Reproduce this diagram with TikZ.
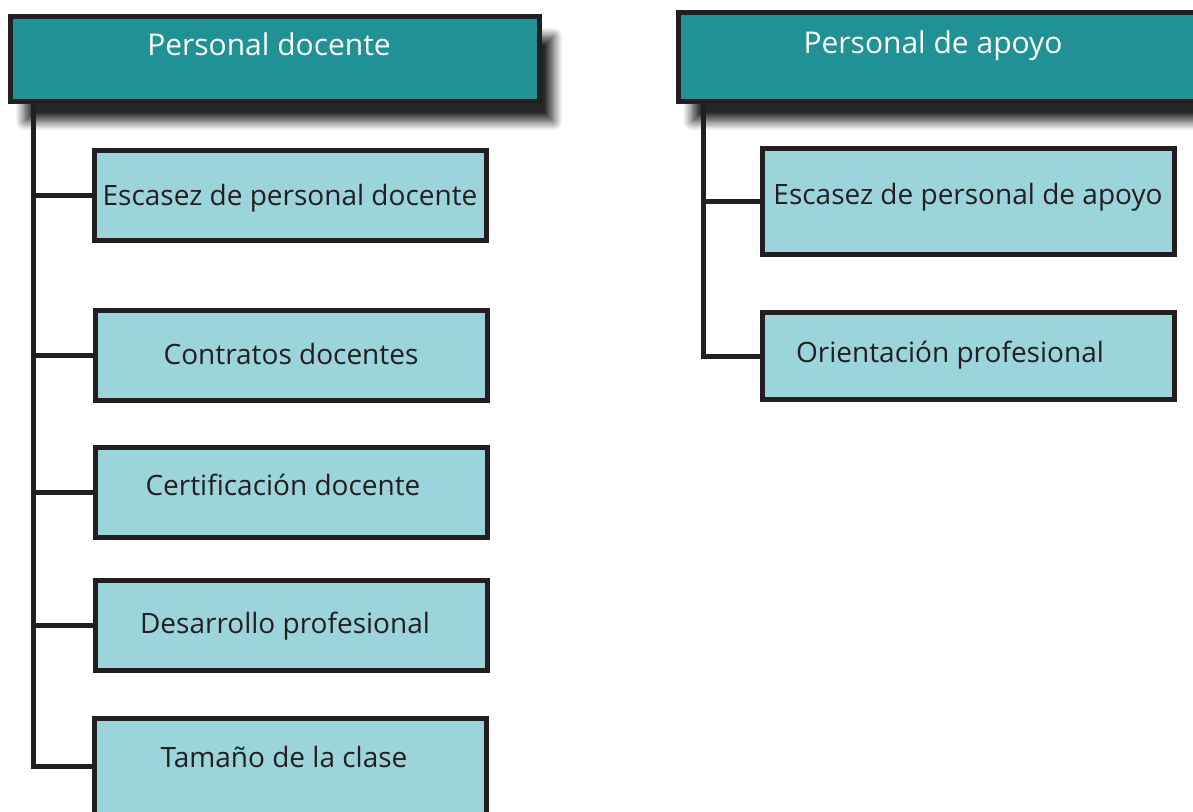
\documentclass[tikz,border=0pt]{standalone}
\usepackage{fontspec}
\setmainfont{Open Sans}
\usetikzlibrary{shadows.blur}
\definecolor{headteal}{HTML}{209195}
\definecolor{boxblue}{HTML}{9CD4DB}
\definecolor{inkline}{HTML}{231F20}
\tikzset{
  headbox/.style={draw=inkline, line width=5pt, fill=headteal, inner sep=0pt,
    blur shadow={shadow xshift=14pt, shadow yshift=-20pt, shadow blur radius=9pt,
    shadow blur steps=10, shadow opacity=85}},
  itembox/.style={draw=inkline, line width=5pt, fill=boxblue, inner sep=0pt},
  headtext/.style={text=white, font=\fontsize{30}{36}\selectfont, anchor=base, inner sep=0pt},
  itemtext/.style={text=inkline, font=\fontsize{28}{34}\selectfont, anchor=base, inner sep=0pt},
  conn/.style={draw=inkline, line width=5pt}
}
\begin{document}
\begin{tikzpicture}[x=1pt, y=-1pt]
\useasboundingbox (0,0) rectangle (1193,811);
\node[headbox, minimum width=529pt, minimum height=85pt] (hL) at (275,59) {};
\node[headbox, minimum width=540pt, minimum height=89pt] (hR) at (948,57) {};
\node[headtext] (tHL) at (269,55) {Personal docente};
\node[headtext] (tHR) at (933,53) {Personal de apoyo};
\node[itembox, minimum width=392pt, minimum height=90pt] (b1) at (290,195.5) {};
\node[itembox, minimum width=392pt, minimum height=90pt] (b2) at (291,355) {};
\node[itembox, minimum width=392pt, minimum height=90pt] (b3) at (291,492) {};
\node[itembox, minimum width=392pt, minimum height=90pt] (b4) at (291,625.5) {};
\node[itembox, minimum width=392pt, minimum height=96pt] (b5) at (290,766) {};
\node[itembox, minimum width=412pt, minimum height=106pt] (r1) at (968.5,201.5) {};
\node[itembox, minimum width=412pt, minimum height=87pt] (r2) at (968.5,356) {};
\node[itemtext] (t1) at (290,205) {Escasez de personal docente};
\node[itemtext] (t2) at (291,364) {Contratos docentes};
\node[itemtext] (t3) at (283,495) {Certificación docente};
\node[itemtext] (t4) at (285,633) {Desarrollo profesional};
\node[itemtext] (t5) at (284,767) {Tamaño de la clase};
\node[itemtext] (t6) at (968,204) {Escasez de personal de apoyo};
\node[itemtext] (t7) at (950,362) {Orientación profesional};
\coordinate (tL) at (33,101.5);
\coordinate (tR) at (703,101.5);
\draw[conn] (tL) |- (b5.west);
\foreach \b in {b1,b2,b3,b4} \draw[conn] (tL |- \b.west) -- (\b.west);
\draw[conn] (tR) |- (r2.west);
\draw[conn] (tR |- r1.west) -- (r1.west);
\end{tikzpicture}
\end{document}
